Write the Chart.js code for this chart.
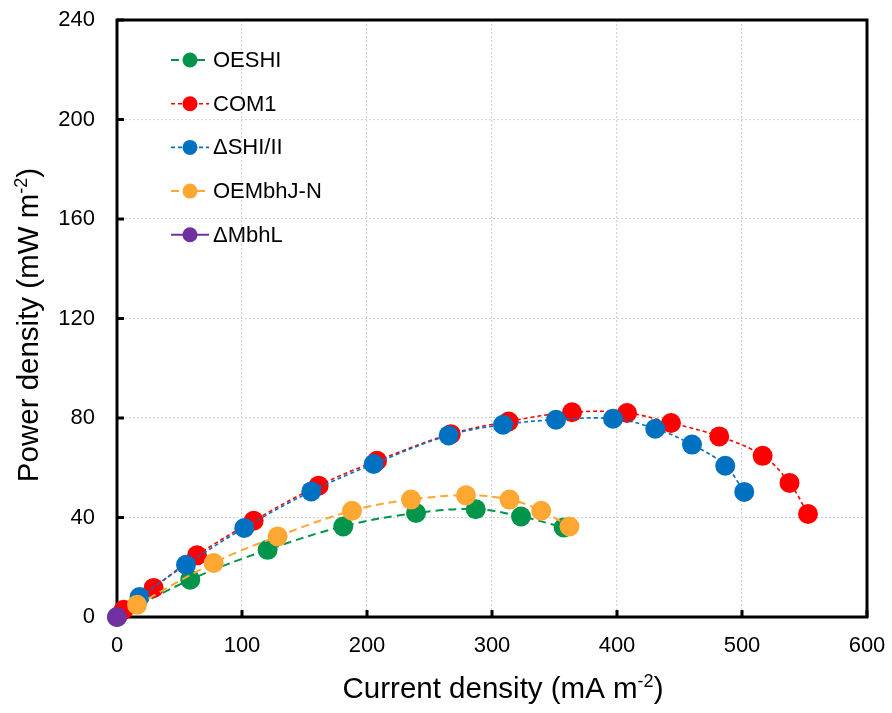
<!DOCTYPE html>
<html>
<head>
<meta charset="utf-8">
<script src="https://cdn.jsdelivr.net/npm/chart.js@4.4.1/dist/chart.umd.min.js"></script>
<style>
  html, body { margin: 0; padding: 0; background: #ffffff; }
  canvas { display: block; }
</style>
</head>
<body>
<canvas id="chart" width="892" height="713"></canvas>
<script>
// Power density curves: current density (mA m-2) vs power density (mW m-2)
const seriesNames = ['OESHI', 'COM1', '\u0394SHI/II', 'OEMbhJ-N', '\u0394MbhL'];

const oeshiX = [0, 58.6, 120.5, 181, 239.2, 287, 323.2, 357.3];
const oeshiY = [0, 15, 27, 36.4, 41.8, 43.3, 40.4, 36];

const com1X = [5.3, 29.3, 64, 109.3, 161.3, 208, 267, 313.3, 364, 408, 443.2, 481.8, 516.5, 538, 552.8];
const com1Y = [2.9, 11.7, 24.8, 38.7, 52.8, 62.8, 73.5, 78.6, 82.3, 82, 78, 72.6, 64.8, 53.9, 41.4];

const shiX = [18, 55.2, 101.8, 155.4, 205.3, 265.3, 308.8, 351.2, 396.8, 430.6, 460, 486.6, 501.8];
const shiY = [8, 21, 35.8, 50.5, 61.5, 73, 77.3, 79.3, 79.7, 75.7, 69.3, 60.8, 50.3];

const mbhjX = [16, 77.3, 128.5, 188, 235.2, 279.2, 314, 339.4, 362];
const mbhjY = [4.9, 21.7, 32.4, 42.7, 47.2, 48.9, 47.2, 42.7, 36.4];

const mbhlX = [0];
const mbhlY = [0];

const xTicks = [0, 100, 200, 300, 400, 500, 600];
const yTicks = [0, 40, 80, 120, 160, 200, 240];

const FONT = '"Liberation Sans", Arial, Helvetica, sans-serif';

function pts(xs, ys) { return xs.map((x, i) => ({ x: x, y: ys[i] })); }

const styles = [
  { color: '#00954A', dash: [8, 5], width: 2,   order: 5 },
  { color: '#FF0000', dash: [4, 3], width: 1.6, order: 4 },
  { color: '#0070C0', dash: [4, 3], width: 1.6, order: 3 },
  { color: '#FFA733', dash: [8, 5], width: 2,   order: 2 },
  { color: '#7030A0', dash: [],     width: 2,   order: 1 }
];
const seriesData = [pts(oeshiX, oeshiY), pts(com1X, com1Y), pts(shiX, shiY), pts(mbhjX, mbhjY), pts(mbhlX, mbhlY)];

const datasets = seriesNames.map((name, i) => ({
  label: name,
  data: seriesData[i],
  borderColor: styles[i].color,
  backgroundColor: styles[i].color,
  borderWidth: styles[i].width,
  borderDash: styles[i].dash,
  pointRadius: 10,
  pointBorderWidth: 0,
  pointBackgroundColor: styles[i].color,
  tension: 0.4,
  showLine: true,
  clip: false,
  order: styles[i].order
}));

// Text with a superscript part, e.g. "m-2"
function drawSupText(ctx, parts, size) {
  let w = 0;
  parts.forEach(p => {
    ctx.font = (p.sup ? Math.round(size * 0.62) : size) + 'px ' + FONT;
    p.w = ctx.measureText(p.t).width;
    w += p.w;
  });
  let x = -w / 2;
  parts.forEach(p => {
    ctx.font = (p.sup ? Math.round(size * 0.62) : size) + 'px ' + FONT;
    ctx.fillText(p.t, x, p.sup ? -size * 0.38 : 0);
    x += p.w;
  });
}

const framePlugin = {
  id: 'frame',
  beforeDatasetsDraw(chart) {
    const { ctx, chartArea: a, scales } = chart;
    ctx.save();
    ctx.strokeStyle = '#000000';
    ctx.lineWidth = 3;
    ctx.setLineDash([]);
    // inward tick marks
    ctx.beginPath();
    xTicks.forEach(v => {
      const px = scales.x.getPixelForValue(v);
      ctx.moveTo(px, a.bottom);
      ctx.lineTo(px, a.bottom - 7);
    });
    yTicks.forEach(v => {
      const py = scales.y.getPixelForValue(v);
      ctx.moveTo(a.left, py);
      ctx.lineTo(a.left + 7, py);
    });
    ctx.stroke();
    ctx.strokeRect(a.left, a.top, a.right - a.left, a.bottom - a.top);
    ctx.restore();
  },
  afterDraw(chart) {
    const { ctx } = chart;
    ctx.save();
    ctx.fillStyle = '#000000';
    ctx.textBaseline = 'alphabetic';
    ctx.textAlign = 'left';
    // axis titles
    ctx.save();
    ctx.translate(503, 698);
    drawSupText(ctx, [{ t: 'Current density (mA m' }, { t: '-2', sup: true }, { t: ')' }], 29.5);
    ctx.restore();
    ctx.save();
    ctx.translate(38, 325);
    ctx.rotate(-Math.PI / 2);
    drawSupText(ctx, [{ t: 'Power density (mW m' }, { t: '-2', sup: true }, { t: ')' }], 29.5);
    ctx.restore();

    // legend inside the plot area
    chart.data.datasets.forEach((ds, i) => {
      const y = 60 + i * 43.7;
      ctx.strokeStyle = ds.borderColor;
      ctx.lineWidth = ds.borderWidth;
      ctx.setLineDash(ds.borderDash);
      ctx.beginPath();
      ctx.moveTo(171, y);
      ctx.lineTo(209, y);
      ctx.stroke();
      ctx.setLineDash([]);
      ctx.fillStyle = ds.backgroundColor;
      ctx.beginPath();
      ctx.arc(190, y, 7.5, 0, Math.PI * 2);
      ctx.fill();
      ctx.fillStyle = '#000000';
      ctx.font = '22px ' + FONT;
      ctx.textBaseline = 'middle';
      ctx.fillText(ds.label, 213, y + 1);
    });
    ctx.restore();
  }
};

new Chart(document.getElementById('chart'), {
  type: 'scatter',
  data: { datasets: datasets },
  options: {
    responsive: false,
    devicePixelRatio: 1,
    animation: false,
    layout: { padding: { top: 20, right: 25, left: 0, bottom: 0 } },
    plugins: { legend: { display: false }, tooltip: { enabled: false } },
    scales: {
      x: {
        type: 'linear',
        min: 0, max: 600,
        afterFit(scale) {
          scale.height = 96;
          scale.paddingLeft = 0;
          scale.paddingRight = 0;
        },
        afterBuildTicks(scale) { scale.ticks = xTicks.map(v => ({ value: v })); },
        ticks: { color: '#000000', font: { family: FONT, size: 22 }, padding: 16 },
        grid: {
          drawTicks: false,
          color: ctx => (ctx.tick && (ctx.tick.value === 0 || ctx.tick.value === 600)) ? 'rgba(0,0,0,0)' : '#d4d4d4',
          lineWidth: 1.2
        },
        border: { display: false, dash: [2, 2] }
      },
      y: {
        type: 'linear',
        min: 0, max: 240,
        afterFit(scale) {
          scale.width = 117;
          scale.paddingTop = 0;
          scale.paddingBottom = 0;
        },
        afterBuildTicks(scale) { scale.ticks = yTicks.map(v => ({ value: v })); },
        ticks: { color: '#000000', font: { family: FONT, size: 22 }, padding: 22 },
        grid: {
          drawTicks: false,
          color: ctx => (ctx.tick && (ctx.tick.value === 0 || ctx.tick.value === 240)) ? 'rgba(0,0,0,0)' : '#d4d4d4',
          lineWidth: 1.2
        },
        border: { display: false, dash: [2, 2] }
      }
    }
  },
  plugins: [framePlugin]
});
</script>
</body>
</html>
